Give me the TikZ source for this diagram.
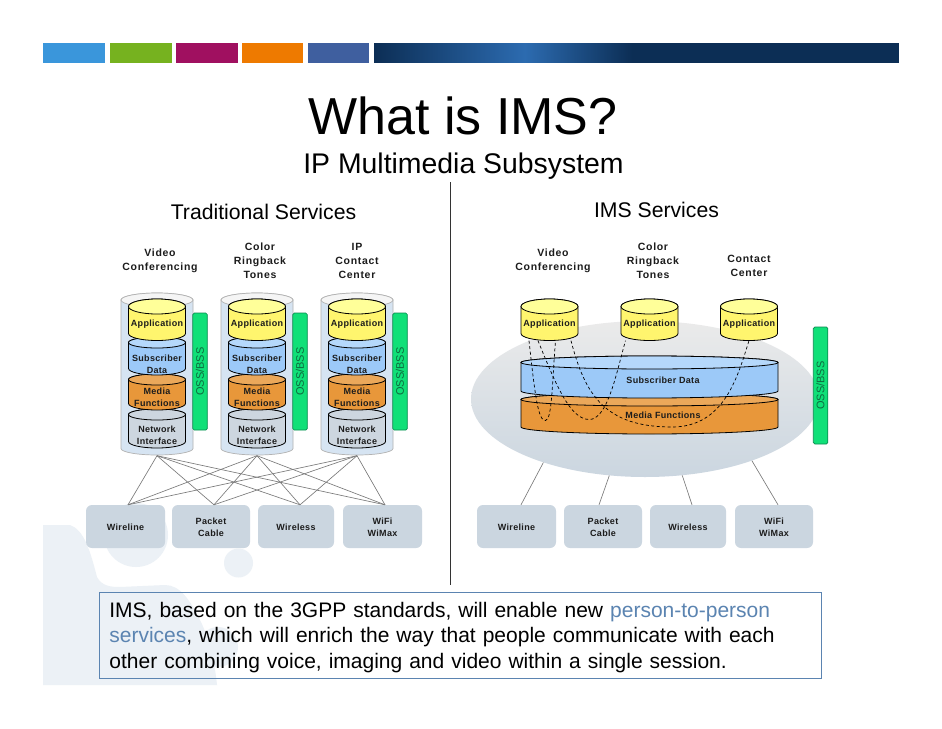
\documentclass[tikz,border=0pt]{standalone}
\usepackage{fontspec}
\usetikzlibrary{shapes.geometric}
\setmainfont{Liberation Sans}
\newfontfamily\hdfont[LetterSpace=6.5]{Liberation Sans}
\newfontfamily\inlfont[LetterSpace=3.5]{Liberation Sans}
\newfontfamily\boxfont[LetterSpace=3.5]{Liberation Sans}
\definecolor{decor}{HTML}{ECF1F6}
\definecolor{yelside}{HTML}{FFF56E}
\definecolor{yeltop}{HTML}{FFFF99}
\definecolor{bluside}{HTML}{9CC9F8}
\definecolor{blutop}{HTML}{B5D8FB}
\definecolor{oraside}{HTML}{E8973A}
\definecolor{oratop}{HTML}{EBA85A}
\definecolor{netside}{HTML}{CDD6DF}
\definecolor{outerside}{HTML}{D6E4F2}
\definecolor{outertop}{HTML}{F5F5F5}
\definecolor{boxfill}{HTML}{CBD6E0}
\definecolor{ossfill}{HTML}{10E078}
\definecolor{ossline}{HTML}{0A8A50}
\definecolor{osstext}{HTML}{0E6B3F}
\definecolor{wire}{HTML}{7A7A7A}
\definecolor{linkblue}{HTML}{5B84B1}
\definecolor{labeltext}{HTML}{1C1C1C}
\definecolor{bardark}{HTML}{0C2E55}
\definecolor{barlight}{HTML}{2C6BB0}
\pgfdeclarehorizontalshading{barshade}{100bp}{color(0bp)=(bardark); color(25bp)=(bardark); color(54.25bp)=(barlight); color(75bp)=(bardark); color(100bp)=(bardark)}
\newcommand{\btext}[1]{\raisebox{0pt}[\dimexpr\height+4pt\relax]{\begin{tabular}{@{}c@{}}#1\end{tabular}}}
\tikzset{
  hdlabel/.style={align=center,text=labeltext,inner sep=0pt,font=\hdfont\bfseries\fontsize{10.5}{14}\selectfont},
  inlabel/.style={align=center,text=labeltext,inner sep=0pt,font=\inlfont\bfseries\fontsize{9}{12}\selectfont},
  boxnode/.style={fill=boxfill,rounded corners=6pt,minimum height=43pt,inner sep=0pt,align=center,text=labeltext,font=\boxfont\bfseries\fontsize{9}{12}\selectfont},
  ossnode/.style={draw=ossline,fill=ossfill,rounded corners=1.5pt,line width=.7pt,rotate=90,minimum width=117pt,minimum height=14.5pt,inner sep=0pt,text=osstext,font=\fontsize{11}{13}\selectfont},
  wireline/.style={draw=wire,line width=.65pt},
  dashline/.style={draw=black,line width=.7pt,dash pattern=on 3pt off 2.5pt},
  cylline/.style={draw=black,line width=.8pt},
  outerline/.style={draw=black!30,line width=.7pt},
  appspan/.style={minimum width=57pt,minimum height=33.6pt,inner sep=0pt,align=center,text=labeltext,font=\inlfont\bfseries\fontsize{9}{12}\selectfont},
}
% centre x, top-ellipse centre y, bottom-ellipse centre y, x radius, top y radius, bottom y radius, side fill, top fill, line style
\newcommand{\cylshape}[9]{%
  \path[#9,fill=#7] ({#1-#4},#2) -- ({#1-#4},#3)
    arc[start angle=180,end angle=360,x radius=#4pt,y radius=#6pt]
    -- ({#1+#4},#2)
    arc[start angle=0,end angle=180,x radius=#4pt,y radius=#5pt] -- cycle;
  \path[#9,fill=#8] (#1,#2) ellipse[x radius=#4pt,y radius=#5pt];
}
\begin{document}
\begin{tikzpicture}[x=1pt,y=-1pt]
\useasboundingbox (0,0) rectangle (942,728);
\fill[white] (0,0) rectangle (942,728);
% decorative background
\fill[decor] (43,525) -- (70,525) .. controls (84,530) and (90,550) .. (97,577)
  .. controls (102,586) and (110,587) .. (120,587) -- (165,585)
  .. controls (180,585) and (190,600) .. (200,620)
  .. controls (210,640) and (215,665) .. (217,685) -- (43,685) -- cycle;
\fill[decor] (136,535) circle[radius=32pt];
\fill[decor] (238.5,563) circle[radius=14.5pt];
\fill[decor] (218,647) circle[radius=20pt];
% header bar
\fill[color={rgb,255:red,58;green,150;blue,219}] (43,43) rectangle (105,63);
\fill[color={rgb,255:red,118;green,178;blue,31}] (110,43) rectangle (172,63);
\fill[color={rgb,255:red,160;green,16;blue,96}] (176,43) rectangle (238,63);
\fill[color={rgb,255:red,238;green,122;blue,0}] (242,43) rectangle (303,63);
\fill[color={rgb,255:red,63;green,95;blue,159}] (308,43) rectangle (369,63);
\shade[shading=barshade] (374,43) rectangle (632,63);
\fill[bardark] (631.5,43) rectangle (899,63);
\fill[white] (370,63) rectangle (640,67);
% titles
\node[anchor=base,inner sep=0pt,font=\fontsize{52}{60}\selectfont] (title) at (463,134) {What is IMS?};
\node[anchor=base,inner sep=0pt,font=\fontsize{28.4}{32}\selectfont] (subtitle) at (463.5,173) {IP Multimedia Subsystem};
\node[anchor=base,inner sep=0pt,font=\fontsize{21.2}{25}\selectfont] (trad) at (263.5,219) {Traditional Services};
\node[anchor=base,inner sep=0pt,font=\fontsize{21.2}{25}\selectfont] (imss) at (656.5,217) {IMS Services};
% divider
\coordinate (divtop) at (450,182);
\coordinate (divbot) at (450,585);
\draw[line width=.8pt,color=black!80] (divtop) -- (divbot);
% service headings, left
\node[hdlabel] (h1) at (160,261) {Video\\Conferencing};
\node[hdlabel] (h2) at (260,261) {Color\\Ringback\\Tones};
\node[hdlabel] (h3) at (357,261) {IP\\Contact\\Center};
% service headings, right
\node[hdlabel] (h4) at (553,261) {Video\\Conferencing};
\node[hdlabel] (h5) at (653,261) {Color\\Ringback\\Tones};
\node[hdlabel] (h6) at (749,266) {Contact\\Center};
% left stacks
\foreach \i/\c in {A/157,B/257,C/357}{
  \cylshape{\c}{300}{448.5}{36}{7}{6.5}{outerside}{outertop}{outerline}
  \node[minimum width=72pt,minimum height=162pt,inner sep=0pt] (stack\i) at (\c,374.5) {};
  \cylshape{\c}{414.5}{441.5}{28.5}{5.5}{6.5}{netside}{netside}{cylline}
  \cylshape{\c}{379.5}{403.5}{28.5}{5.5}{6.5}{oraside}{oratop}{cylline}
  \cylshape{\c}{342.5}{368.5}{28.5}{5.5}{6.5}{bluside}{blutop}{cylline}
  \cylshape{\c}{306.5}{333.5}{28.5}{7.5}{7}{yelside}{yeltop}{cylline}
  \node[inlabel] (app\i) at (\c,323.7) {Application};
  \node[inlabel] (sub\i) at (\c,364.3) {Subscriber\\Data};
  \node[inlabel] (med\i) at (\c,396.8) {Media\\Functions};
  \node[inlabel] (net\i) at (\c,435) {Network\\Interface};
  \node[ossnode] (oss\i) at ({\c+43},371.5) {OSS/BSS};
}
% left access boxes
\node[boxnode,minimum width=79pt] (lw1) at (125.5,526.5) {\btext{Wireline}};
\node[boxnode,minimum width=78pt] (lw2) at (211,526.5) {\btext{Packet\\Cable}};
\node[boxnode,minimum width=76pt] (lw3) at (296,526.5) {\btext{Wireless}};
\node[boxnode,minimum width=79pt] (lw4) at (382.5,526.5) {\btext{WiFi\\WiMax}};
\foreach \s in {A,B,C}{
  \draw[wireline] (stack\s.south) -- ([xshift=2.5pt]lw1.north);
  \draw[wireline] (stack\s.south) -- ([xshift=3pt]lw2.north);
  \draw[wireline] (stack\s.south) -- ([xshift=4pt]lw3.north);
  \draw[wireline] (stack\s.south) -- ([xshift=2.5pt]lw4.north);
}
% right panel
\node[ellipse,minimum width=348pt,minimum height=156pt,inner sep=0pt,top color=black!8,bottom color=boxfill] (cloud) at (645,399) {};
\cylshape{649.5}{399.5}{427}{128.5}{6.5}{7}{oraside}{oratop}{cylline}
\cylshape{649.5}{362.5}{391}{128.5}{6.5}{7}{bluside}{blutop}{cylline}
\node[inlabel] (subd) at (663,380) {Subscriber Data};
\node[inlabel] (medf) at (663,415) {Media Functions};
\foreach \i/\c in {1/549.5,2/649.5,3/749}{
  \cylshape{\c}{306.5}{333.5}{28.5}{7.5}{7}{yelside}{yeltop}{cylline}
  \node[appspan] (rapp\i) at (\c,323.7) {Application};
}
\node[ossnode] (ossR) at (820.5,385.5) {OSS/BSS};
\draw[dashline] ([xshift=-20.5pt]rapp1.south) .. controls (535,395) and (538,421) .. (545.5,420.5) .. controls (552,420) and (552,385) .. ([xshift=6pt]rapp1.south);
\draw[dashline] ([xshift=-11.5pt]rapp1.south) .. controls (556,385) and (570,419) .. (589,419.5) .. controls (608,420) and (617,370) .. ([xshift=-24pt]rapp2.south);
\draw[dashline] ([xshift=21.5pt]rapp1.south) .. controls (585,395) and (605,427) .. (672,427) .. controls (725,427) and (738,375) .. (rapp3.south);
% right access boxes
\node[boxnode,minimum width=79pt] (rw1) at (516.5,526.5) {\btext{Wireline}};
\node[boxnode,minimum width=78pt] (rw2) at (603,526.5) {\btext{Packet\\Cable}};
\node[boxnode,minimum width=76pt] (rw3) at (688,526.5) {\btext{Wireless}};
\node[boxnode,minimum width=78pt] (rw4) at (774,526.5) {\btext{WiFi\\WiMax}};
\draw[wireline] (cloud.212.5) -- ([xshift=4.5pt]rw1.north);
\draw[wireline] (cloud.245.3) -- ([xshift=-4pt]rw2.north);
\draw[wireline] (cloud.-64.3) -- ([xshift=4pt]rw3.north);
\draw[wireline] (cloud.-30.3) -- ([xshift=4pt]rw4.north);
% summary box
\node[draw=linkblue,line width=.8pt,anchor=north west,minimum width=721.5pt,minimum height=85.5pt,text width=701.5pt,inner xsep=10pt,inner ysep=0pt,align=left,font=\fontsize{21}{25.5}\selectfont] (note) at (99,592)
 {\rule{0pt}{19.5pt}IMS, based on the 3GPP standards, will enable new {\color{linkblue}person-to-person}\\
 {\color{linkblue}services}, which will enrich the way that people communicate with each\\
 other combining voice, imaging and video within a single session.};
\end{tikzpicture}
\end{document}
